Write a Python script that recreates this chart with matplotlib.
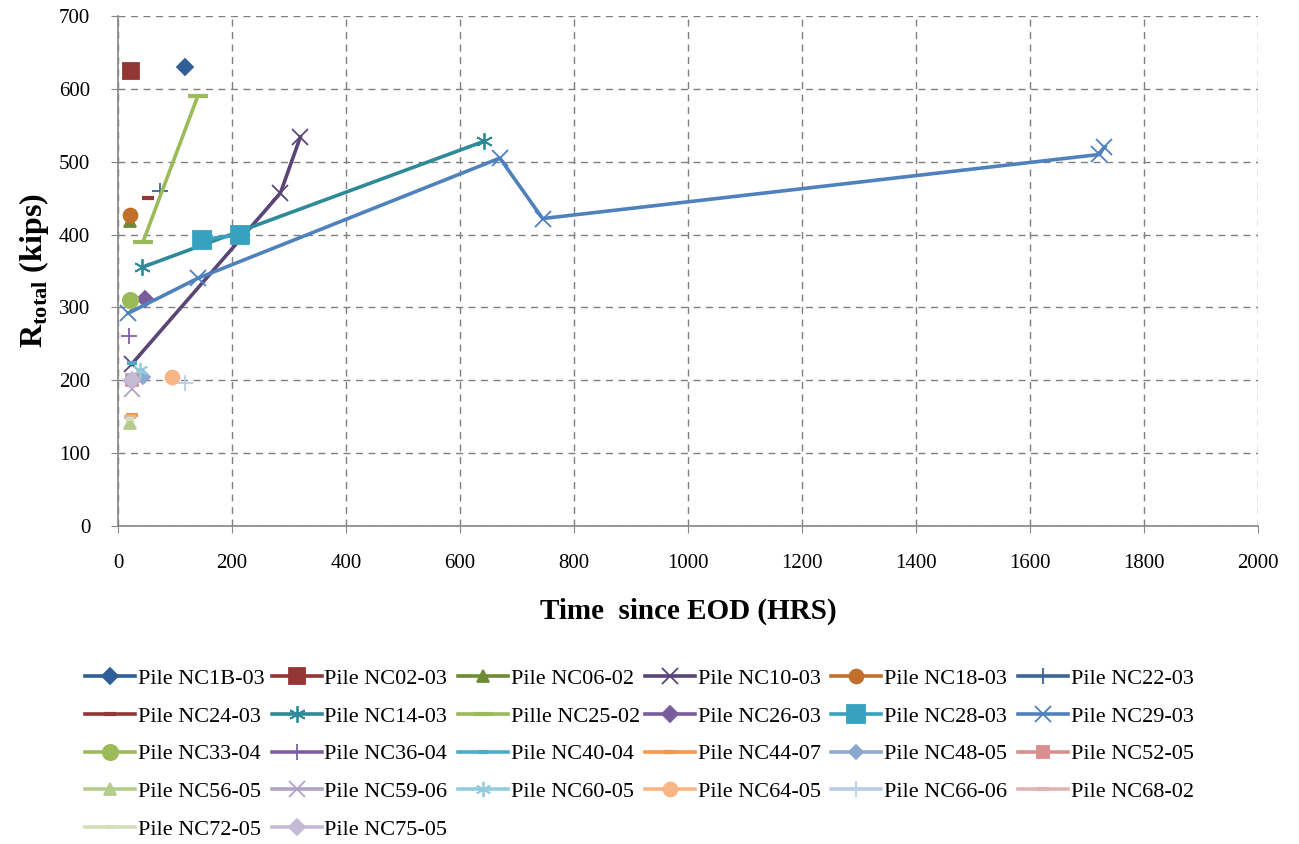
import matplotlib
matplotlib.use('Agg')
import matplotlib.pyplot as plt

plt.rcParams['font.family'] = ['Liberation Serif', 'DejaVu Serif']
plt.rcParams['mathtext.fontset'] = 'custom'
plt.rcParams['mathtext.rm'] = 'Liberation Serif:bold'
plt.rcParams['mathtext.bf'] = 'Liberation Serif:bold'

# series (time in hrs, resistance in kips)
labels = ['Pile NC1B-03', 'Pile NC02-03', 'Pile NC06-02', 'Pile NC10-03', 'Pile NC18-03', 'Pile NC22-03',
          'Pile NC24-03', 'Pile NC14-03', 'Pille NC25-02', 'Pile NC26-03', 'Pile NC28-03', 'Pile NC29-03',
          'Pile NC33-04', 'Pile NC36-04', 'Pile NC40-04', 'Pile NC44-07', 'Pile NC48-05', 'Pile NC52-05',
          'Pile NC56-05', 'Pile NC59-06', 'Pile NC60-05', 'Pile NC64-05', 'Pile NC66-06', 'Pile NC68-02',
          'Pile NC72-05', 'Pile NC75-05']
t_hours = [[117], [23], [21], [24, 285, 320], [21], [74],
           [53], [42, 642], [44, 140], [47], [148, 215], [18, 140, 670, 745, 1722, 1730],
           [21], [19], [25], [24], [44], [24],
           [22], [25], [39], [95], [117], [22],
           [22], [24]]
r_kips = [[630], [625], [418], [222, 457, 534], [427], [460],
          [450], [355, 528], [390, 590], [312], [393, 400], [292, 340, 505, 422, 510, 520],
          [310], [261], [224], [152], [205], [201],
          [142], [188], [214], [204], [196], [150],
          [147], [200]]
colors = ['#2F5E98', '#943634', '#6E8B35', '#5B4577', '#C0702A', '#3B6497',
          '#943634', '#2E8A98', '#9BBB59', '#7A5C9E', '#37A2C0', '#4F81BD',
          '#9BBB59', '#7E5FA6', '#4BACC6', '#F79646', '#8EA9CF', '#D98F8D',
          '#B5CC8C', '#B3A2C7', '#93CDDD', '#FAB585', '#B9CDE5', '#E0B3B2',
          '#D0DFB5', '#C5BAD6']
markers = ['D', 's', '^', 'x', 'o', '+',
           '_', (6, 2, 0), '_', 'D', 's', 'x',
           'o', '+', '_', '_', 'D', 's',
           '^', 'x', (6, 2, 0), 'o', '+', '_',
           '_', 'D']
msizes = [8, 11, 9, 11, 10, 12,
          9, 12, 14, 8, 13, 11,
          11, 12, 7, 9, 7, 9,
          9, 11, 11, 10, 12, 8,
          6, 8]

fig = plt.figure(figsize=(12.99, 8.44), dpi=100)
ax = fig.add_axes([0.0908, 0.3768, 0.8776, 0.6042])

handles = []
for lab, x, y, c, m, ms in zip(labels, t_hours, r_kips, colors, markers, msizes):
    mew = 3 if m == '_' else 1.3
    h, = ax.plot(x, y, color=c, lw=2.6, marker=m, markersize=ms, markeredgewidth=mew,
                 markerfacecolor=c, markeredgecolor=c, label=lab)
    handles.append(h)

ax.set_xlim(0, 2000)
ax.set_ylim(0, 700)
ax.set_xticks(range(0, 2001, 200))
ax.set_yticks(range(0, 701, 100))
ax.grid(True, color='#7f7f7f', linestyle=(0, (5, 4)), linewidth=1.0)
ax.set_axisbelow(True)
for s in ['top', 'right']:
    ax.spines[s].set_visible(False)
for s in ['left', 'bottom']:
    ax.spines[s].set_color('#868686')
    ax.spines[s].set_linewidth(1.2)
ax.tick_params(direction='out', length=5, color='#868686', labelsize=15)
ax.tick_params(axis='x', pad=15)
ax.tick_params(axis='y', pad=15)

ax.set_xlabel('Time  since EOD (HRS)', fontsize=21, fontweight='bold', labelpad=18)
ax.set_ylabel(r'R$_{\mathrm{total}}$ (kips)', fontsize=23, fontweight='bold', labelpad=6)

# legend laid out row by row in equal-width columns, like the original
ncol = 6
col_w = 186.6 / 1299
x0 = 85 / 1299
for j in range(ncol):
    idx = list(range(j, len(handles), ncol))
    fig.legend([handles[i] for i in idx], [labels[i] for i in idx],
               loc='upper left', bbox_to_anchor=(x0 + j * col_w, 0.208), frameon=False,
               fontsize=16, numpoints=1, handlelength=2.25, handletextpad=0.13,
               labelspacing=0.77, borderpad=0, borderaxespad=0)

fig.savefig('out.png', dpi=100)
